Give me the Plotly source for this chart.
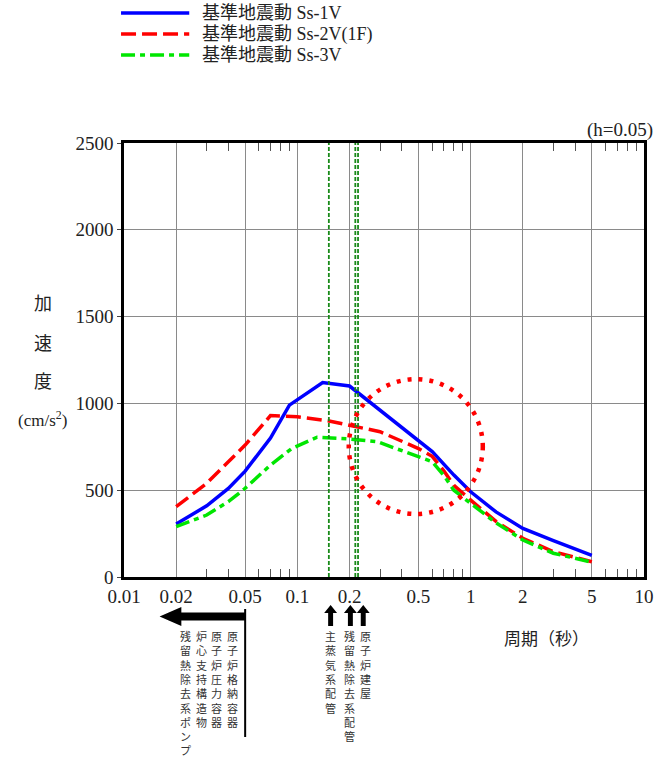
import math
import plotly.graph_objects as go

# ---------------- data ----------------
series_names = ["基準地震動 Ss-1V", "基準地震動 Ss-2V(1F)", "基準地震動 Ss-3V"]

period_ss1 = [0.02, 0.03, 0.04, 0.05, 0.07, 0.09, 0.14, 0.2, 0.6, 0.7, 0.8, 1.0, 1.4, 2.0, 3.0, 5.0]
accel_ss1 = [305, 410, 510, 610, 800, 990, 1120, 1100, 722, 649, 587, 491, 375, 280, 209, 125]

period_ss2 = [0.02, 0.03, 0.04, 0.05, 0.07, 0.1, 0.15, 0.2, 0.3, 0.5, 0.6, 0.7, 0.8, 1.0, 1.4, 2.0, 3.0, 5.0]
accel_ss2 = [405, 540, 664, 760, 930, 923, 900, 872, 837, 740, 695, 612, 528, 443, 320, 223, 146, 88]

period_ss3 = [0.02, 0.03, 0.04, 0.05, 0.07, 0.093, 0.13, 0.2, 0.29, 0.5, 0.6, 0.7, 0.8, 1.0, 1.4, 2.0, 3.0, 5.0]
accel_ss3 = [290, 357, 434, 511, 645, 741, 805, 795, 779, 693, 664, 585, 500, 424, 312, 213, 137, 85]

# natural periods of equipment (vertical guide lines)
equip_periods = [0.152, 0.216, 0.224]

x_tick_vals = [0.01, 0.02, 0.05, 0.1, 0.2, 0.5, 1, 2, 5, 10]
x_tick_text = ["0.01", "0.02", "0.05", "0.1", "0.2", "0.5", "1", "2", "5", "10"]
x_minor_vals = [0.03, 0.04, 0.06, 0.07, 0.08, 0.09, 0.3, 0.4, 0.6, 0.7, 0.8, 0.9,
                3, 4, 6, 7, 8, 9]
y_tick_vals = [0, 500, 1000, 1500, 2000, 2500]

# ---------------- styling ----------------
W, H = 666, 758
L, R, T, B = 124, 16, 143, 181
PW, PH = W - L - R, H - T - B

SERIF = "Liberation Serif, Noto Sans CJK JP, serif"
CJK = "Noto Sans CJK JP, sans-serif"
TXT = "#222"

colors = ["#0000ff", "#ff0000", "#00e600"]
dashes = ["solid", "15px,6px", "14px,5px,5px,5px"]


def px2x(px):
    return (px - L) / PW


def py2y(py):
    return (T + PH - py) / PH


fig = go.Figure()
for name, xs, ys, c, d in zip(series_names,
                              [period_ss1, period_ss2, period_ss3],
                              [accel_ss1, accel_ss2, accel_ss3],
                              colors, dashes):
    fig.add_trace(go.Scatter(x=xs, y=ys, mode="lines", name=name,
                             line=dict(color=c, width=3.5, dash=d),
                             showlegend=False, hoverinfo="skip"))

for p in equip_periods:
    fig.add_vline(x=p, line=dict(color="#1a8a1a", width=1.8, dash="4px,2px"))

# dotted red circle
fig.add_shape(type="circle", xref="x", yref="y", x0=0.198, x1=1.175, y0=363, y1=1140,
              line=dict(color="#ff0000", width=4.5, dash="4px,7px"), layer="above")

shapes = []
annotations = []

# hand-drawn legend
leg_rows = [13, 34, 55]
for name, c, d, ry in zip(series_names, colors, dashes, leg_rows):
    shapes.append(dict(type="line", xref="paper", yref="paper",
                       x0=px2x(121), x1=px2x(190), y0=py2y(ry), y1=py2y(ry),
                       line=dict(color=c, width=3.5, dash=d)))
    annotations.append(dict(text=name, xref="paper", yref="paper", x=px2x(201), y=py2y(ry),
                            xanchor="left", yanchor="middle", showarrow=False,
                            font=dict(family=SERIF, size=18, color=TXT)))

# (h=0.05)
annotations.append(dict(text="(h=0.05)", xref="paper", yref="paper", x=px2x(626), y=py2y(130),
                        xanchor="center", yanchor="middle", showarrow=False,
                        font=dict(family=SERIF, size=19, color=TXT)))

# y title (stacked)
for txt, yy, fam, sz in [("加", 302, CJK, 18), ("速", 342, CJK, 18), ("度", 380, CJK, 18),
                         ("(cm/s<sup>2</sup>)", 419, SERIF, 17)]:
    annotations.append(dict(text=txt, xref="paper", yref="paper", x=px2x(42), y=py2y(yy),
                            xanchor="center", yanchor="middle", showarrow=False,
                            font=dict(family=fam, size=sz, color=TXT)))

# x title
annotations.append(dict(text="周期（秒）", xref="paper", yref="paper", x=px2x(551), y=py2y(637),
                        xanchor="center", yanchor="middle", showarrow=False,
                        font=dict(family=CJK, size=17, color=TXT)))

# vertical (tategaki) captions, one line per glyph
cols = [("原子炉格納容器", 234), ("原子炉圧力容器", 218), ("炉心支持構造物", 202),
        ("残留熱除去系ポンプ", 186), ("主蒸気系配管", 333), ("残留熱除去系配管", 352),
        ("原子炉建屋", 368)]
for txt, cx in cols:
    annotations.append(dict(text="<br>".join(list(txt)), xref="paper", yref="paper",
                            x=px2x(cx), y=py2y(627), xanchor="center", yanchor="top",
                            showarrow=False, align="center", borderpad=0,
                            font=dict(family=CJK, size=11, color="#333")))


def path_px(points):
    s = "M " + " L ".join(f"{px2x(a):.5f},{py2y(b):.5f}" for a, b in points) + " Z"
    return s


def up_arrow(cx, top, bottom, shaft=5, head=13, head_h=8):
    return path_px([(cx - shaft / 2, bottom), (cx - shaft / 2, top + head_h),
                    (cx - head / 2, top + head_h), (cx, top), (cx + head / 2, top + head_h),
                    (cx + shaft / 2, top + head_h), (cx + shaft / 2, bottom)])


# big left arrow at T = 0.05 s
x05 = L + PW * (math.log10(0.05) + 2) / 3
shapes.append(dict(type="path", xref="paper", yref="paper",
                   path=path_px([(x05, 612.5), (182, 612.5), (182, 607), (160, 616.5),
                                 (182, 626), (182, 620.5), (x05, 620.5)]),
                   fillcolor="black", line=dict(width=0)))
shapes.append(dict(type="line", xref="paper", yref="paper", x0=px2x(x05), x1=px2x(x05),
                   y0=py2y(609), y1=py2y(737), line=dict(color="black", width=2)))

for cx in [333, 353, 366]:
    shapes.append(dict(type="path", xref="paper", yref="paper",
                       path=up_arrow(cx, 605, 626), fillcolor="black", line=dict(width=0)))

fig.update_layout(
    width=W, height=H,
    margin=dict(l=L, r=R, t=T, b=B),
    paper_bgcolor="white", plot_bgcolor="white",
    shapes=list(fig.layout.shapes) + shapes,
    annotations=annotations,
    showlegend=False,
)

fig.update_xaxes(type="log", range=[-2, 1], tickvals=x_tick_vals, ticktext=x_tick_text,
                 showgrid=True, gridcolor="#8a8a8a", gridwidth=1,
                 showline=True, linecolor="black", linewidth=2.5, mirror="allticks",
                 ticks="", zeroline=False,
                 tickfont=dict(family=SERIF, size=19, color=TXT),
                 minor=dict(tickvals=x_minor_vals, ticks="inside", ticklen=8,
                            tickcolor="#555", tickwidth=1, showgrid=False))
fig.update_yaxes(range=[0, 2500], tickvals=y_tick_vals,
                 showgrid=True, gridcolor="#8a8a8a", gridwidth=1,
                 showline=True, linecolor="black", linewidth=2.5, mirror=True,
                 ticks="outside", ticklen=4, tickcolor="#444", zeroline=False,
                 tickfont=dict(family=SERIF, size=19, color=TXT))

fig.write_html("out.html", config={"displayModeBar": False},
               post_script="document.body.style.margin='0px';document.body.style.overflow='hidden';")
